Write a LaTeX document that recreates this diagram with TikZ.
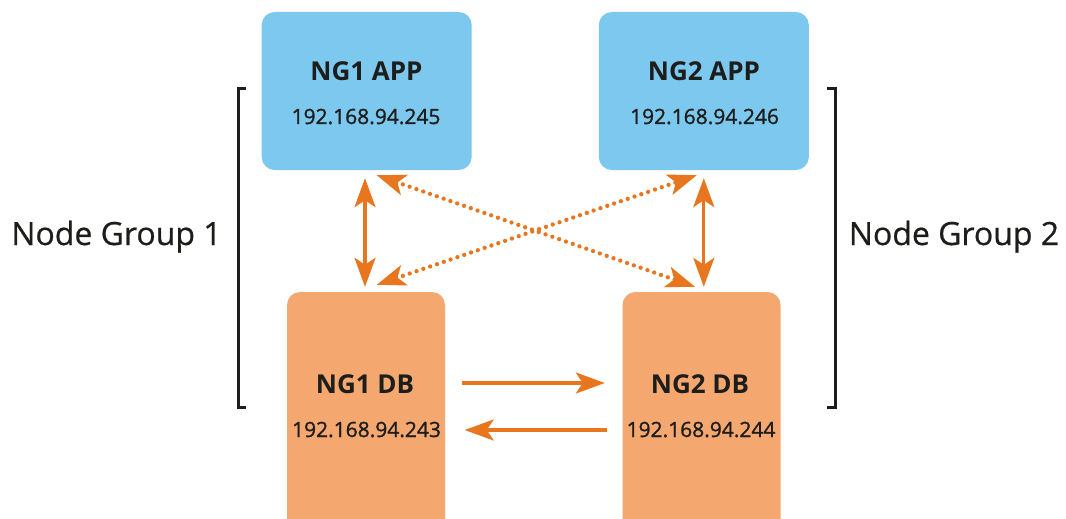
\documentclass[tikz,border=0pt]{standalone}
\usepackage{fontspec}
\setmainfont{Open Sans}
\newfontfamily\ipfont{Open Sans}[FakeBold=1.2]
\newfontfamily\groupfont{Open Sans}[FakeBold=0.6]
\usetikzlibrary{arrows.meta}
\definecolor{appblue}{HTML}{7DC8EE}
\definecolor{dborange}{HTML}{F4A870}
\definecolor{arroworange}{HTML}{E8761E}
\definecolor{inktext}{HTML}{1D1D1B}
\tikzset{
  appbox/.style={fill=appblue, draw=none, rounded corners=13pt, minimum width=210pt, minimum height=158pt, inner sep=0pt},
  dbbox/.style={fill=dborange, draw=none, rounded corners=13pt, minimum width=158pt, minimum height=250pt, inner sep=0pt},
  titletext/.style={font=\fontsize{26}{30}\selectfont\bfseries, text=inktext, inner sep=0pt, anchor=base},
  iptext/.style={font=\ipfont\fontsize{21}{24}\selectfont, text=inktext, inner sep=0pt, anchor=base},
  grouptext/.style={font=\groupfont\fontsize{32}{36}\selectfont, text=inktext, inner sep=0pt, anchor=base},
  solidarrow/.style={draw=arroworange, line width=3.2pt, -{Stealth[length=29pt,width=21pt,inset=7pt]}},
  biarrow/.style={draw=arroworange, line width=3.2pt, {Stealth[length=29pt,width=21pt,inset=7pt]}-{Stealth[length=29pt,width=21pt,inset=7pt]}},
  dotarrow/.style={draw=arroworange, line width=4.3pt, dash pattern=on 0pt off 7.2pt, line cap=round, {Stealth[length=29pt,width=21pt,inset=7pt,line cap=butt]}-{Stealth[length=29pt,width=21pt,inset=7pt,line cap=butt]}},
  bracketline/.style={draw=inktext, line width=3pt}
}
\begin{document}
\begin{tikzpicture}[x=1pt,y=-1pt]
\useasboundingbox (0,0) rectangle (1066,519);
\clip (0,0) rectangle (1066,519);
% boxes
\node[appbox] (app1) at (366.7,91) {};
\node[appbox] (app2) at (703.8,91) {};
\node[dbbox] (db1) at (366,417) {};
\node[dbbox] (db2) at (701.5,417) {};
% texts
\node[titletext] (app1t) at (366.5,81) {NG1 APP};
\node[iptext] (app1ip) at (366,124) {192.168.94.245};
\node[titletext] (app2t) at (704,81) {NG2 APP};
\node[iptext] (app2ip) at (704.5,124) {192.168.94.246};
\node[titletext] (db1t) at (365,393) {NG1 DB};
\node[iptext] (db1ip) at (366.5,437) {192.168.94.243};
\node[titletext] (db2t) at (700,393) {NG2 DB};
\node[iptext] (db2ip) at (701,437) {192.168.94.244};
\node[grouptext] (g1) at (116.5,245) {Node Group 1};
\node[grouptext] (g2) at (954,245) {Node Group 2};
% brackets
\draw[bracketline] (246,89) -- (238,89) -- (238,407) -- (246,407);
\draw[bracketline] (827,89) -- (835,89) -- (835,407) -- (827,407);
% vertical double arrows
\draw[biarrow] ([xshift=-1.7pt,yshift=-8pt]app1.south) -- ([xshift=-1.7pt,yshift=5pt]app1.south |- db1.north);
\draw[biarrow] ([yshift=-8pt]app2.south) -- ([yshift=5pt]app2.south |- db2.north);
% dotted crossing arrows
\draw[dotarrow] ([xshift=10pt,yshift=-5pt]app1.south) -- ([xshift=-6.5pt,yshift=5pt]db2.north);
\draw[dotarrow] ([xshift=10.7pt,yshift=7pt]db1.north) -- ([xshift=-7pt,yshift=-5pt]app2.south);
% horizontal replication arrows
\draw[solidarrow] ([xshift=17pt,yshift=34pt]db1.east) -- ([xshift=-17.5pt,yshift=34pt]db2.west);
\draw[solidarrow] ([xshift=-15.5pt,yshift=-13pt]db2.west) -- ([xshift=19.5pt,yshift=-13pt]db1.east);
\end{tikzpicture}
\end{document}
